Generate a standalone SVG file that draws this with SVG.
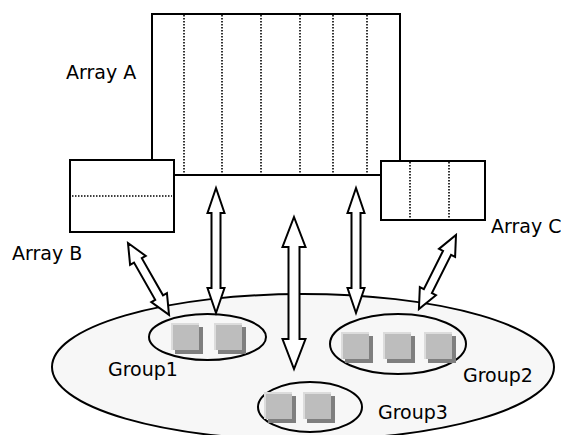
<svg xmlns="http://www.w3.org/2000/svg" xmlns:xlink="http://www.w3.org/1999/xlink" width="561" height="435" viewBox="0 0 561 435">
<style>
.box{fill:#fff;stroke:#000;stroke-width:2}
.dot{stroke:#000;stroke-width:1.6;stroke-dasharray:1.5 1.5;fill:none}
.ell{fill:#f7f7f7;stroke:#000;stroke-width:2}
.arr{fill:#fff;stroke:#000;stroke-width:2;stroke-linejoin:miter}
.lbl{font-family:"DejaVu Sans",Verdana,sans-serif;font-size:19px;fill:#000}
</style>
<defs>
<g id="sq">
<rect x="4" y="4" width="28" height="27" fill="#7f7f7f"/>
<rect x="0" y="0" width="28" height="27" fill="#dcdcdc"/>
<rect x="2" y="2" width="26" height="25" fill="#bdbdbd"/>
</g>
<polygon id="diag" class="arr" points="0,0 20,-9 20,-4.5 62.8,-4.5 62.8,-9 82.8,0 62.8,9 62.8,4.5 20,4.5 20,9"/>
</defs>
<rect width="561" height="435" fill="#fff"/>

<g id="pool">
<ellipse class="ell" cx="303" cy="367" rx="251" ry="73"/>
</g>
<g id="group1">
<ellipse class="ell" cx="207.5" cy="337" rx="58.5" ry="23"/>
<use xlink:href="#sq" x="171" y="323"/>
<use xlink:href="#sq" x="214" y="323"/>
<text class="lbl" x="108" y="376">Group1</text>
</g>
<g id="group2">
<ellipse class="ell" cx="398" cy="344" rx="68" ry="30"/>
<use xlink:href="#sq" x="341" y="332"/>
<use xlink:href="#sq" x="383" y="332"/>
<use xlink:href="#sq" x="424" y="332"/>
<text class="lbl" x="463" y="382">Group2</text>
</g>
<g id="group3">
<ellipse class="ell" cx="310" cy="407" rx="52" ry="25"/>
<use xlink:href="#sq" x="264" y="392"/>
<use xlink:href="#sq" x="303" y="392"/>
<text class="lbl" x="378" y="419">Group3</text>
</g>

<g id="connectors">
<polygon class="arr" points="216,188 224.5,213 220.5,213 220.5,288 224.5,288 216,313 207.5,288 211.5,288 211.5,213 207.5,213"/>
<polygon class="arr" points="356,188 364.5,213 360.5,213 360.5,288 364.5,288 356,313 347.5,288 351.5,288 351.5,213 347.5,213"/>
<polygon class="arr" points="294,217 305.5,247 299.5,247 299.5,339 305.5,339 294,369 282.5,339 288.5,339 288.5,247 282.5,247"/>
<use xlink:href="#diag" transform="translate(128,243) rotate(60.3)"/>
<use xlink:href="#diag" transform="translate(456,235) rotate(116.6)"/>
</g>

<g id="arrayA">
<rect class="box" x="152" y="14" width="248" height="161"/>
<path class="dot" d="M184,15V174M222,15V174M261,15V174M300,15V174M333,15V174M367,15V174"/>
<text class="lbl" x="66" y="79">Array A</text>
</g>
<g id="arrayB">
<rect class="box" x="70" y="160" width="104" height="72"/>
<path class="dot" d="M72,196H172"/>
<text class="lbl" x="12" y="260">Array B</text>
</g>
<g id="arrayC">
<rect class="box" x="381" y="161" width="104" height="59"/>
<path class="dot" d="M410,162V219M449,162V219"/>
<text class="lbl" x="491" y="233">Array C</text>
</g>
</svg>
